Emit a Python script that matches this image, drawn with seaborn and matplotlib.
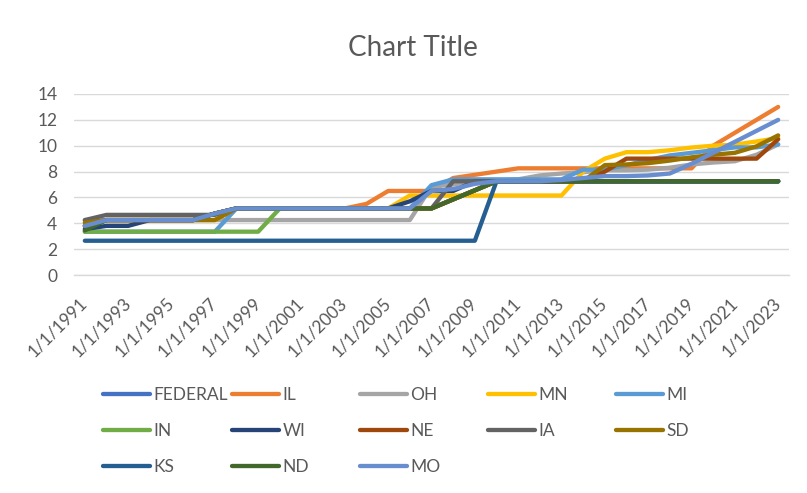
import numpy as np
import pandas as pd
import matplotlib
matplotlib.use("Agg")
import matplotlib.pyplot as plt
from matplotlib.lines import Line2D
import seaborn as sns

# ---------------- data ----------------
years = list(range(1991, 2024))

FEDERAL = [3.80] + [4.25] * 5 + [4.75] + [5.15] * 10 + [5.85, 6.55] + [7.25] * 14
IL = [3.80] + [4.25] * 5 + [4.75] + [5.15] * 6 + [5.50] + [6.50] * 3 + [7.50, 7.75, 8.00] + [8.25] * 9 + [10.00, 11.00, 12.00, 13.00]
OH = [4.25] * 16 + [6.85, 7.00, 7.30, 7.30, 7.40, 7.70, 7.85, 7.95, 8.10, 8.10, 8.15, 8.30, 8.55, 8.70, 8.80, 9.30, 10.10]
MN = [3.80] + [4.25] * 6 + [5.15] * 8 + [6.15] * 8 + [8.00, 9.00, 9.50, 9.50, 9.65, 9.86, 10.00, 10.08, 10.33, 10.59]
MI = [3.35] * 7 + [5.15] * 9 + [6.95] + [7.40] * 6 + [8.15, 8.15, 8.50, 8.90, 9.25, 9.45, 9.65, 9.87, 9.87, 10.10]
IN = [3.35] * 9 + [5.15] * 8 + [5.85, 6.55] + [7.25] * 14
WI = [3.55, 3.80, 3.80, 4.25, 4.25, 4.25, 4.75] + [5.15] * 8 + [5.70, 6.50, 6.50] + [7.25] * 15
NE = [3.80] + [4.25] * 5 + [4.75] + [5.15] * 10 + [5.85, 6.55] + [7.25] * 5 + [8.00] + [9.00] * 7 + [10.50]
IA = [4.25] + [4.65] * 6 + [5.15] * 10 + [7.25] * 16
SD = [4.05] + [4.25] * 6 + [5.15] * 10 + [5.85, 6.55] + [7.25] * 5 + [8.50, 8.55, 8.65, 8.85, 9.10, 9.30, 9.45, 9.95, 10.80]
KS = [2.65] * 19 + [7.25] * 14
ND = [3.45] + [4.25] * 5 + [4.75] + [5.15] * 10 + [5.85, 6.55] + [7.25] * 14
MO = [3.80] + [4.25] * 5 + [4.75] + [5.15] * 9 + [6.50, 6.65, 7.05, 7.25, 7.25, 7.25, 7.35, 7.50, 7.65, 7.65, 7.70, 7.85, 8.60, 9.45, 10.30, 11.15, 12.00]

states = ["FEDERAL", "IL", "OH", "MN", "MI", "IN", "WI", "NE", "IA", "SD", "KS", "ND", "MO"]
series = [FEDERAL, IL, OH, MN, MI, IN, WI, NE, IA, SD, KS, ND, MO]
colors = ["#4472C4", "#ED7D31", "#A5A5A5", "#FFC000", "#5B9BD5", "#70AD47",
          "#264478", "#9E480E", "#636363", "#997300", "#255E91", "#43682B", "#698ED0"]

tick_years = list(range(1991, 2024, 2))
tick_labels = [f"1/1/{y}" for y in tick_years]
y_ticks = list(range(0, 16, 2))

# ---------------- style ----------------
sns.set_theme(style="white")
plt.rcParams["font.family"] = ["Lato", "DejaVu Sans"]
TXT = "#595959"
GRID = "#D9D9D9"
LW = 3.1

df = pd.DataFrame({
    "year": np.tile(years, len(states)),
    "wage": np.concatenate([np.array(s, dtype=float) for s in series]),
    "state": np.repeat(states, len(years)),
})

W, H = 807, 493
fig = plt.figure(figsize=(W / 100, H / 100), dpi=100)
L, R, T, B = 74, 789, 94, 275
ax = fig.add_axes([L / W, 1 - B / H, (R - L) / W, (B - T) / H])

sns.lineplot(data=df, x="year", y="wage", hue="state", hue_order=states,
             palette=dict(zip(states, colors)), linewidth=LW, legend=False,
             estimator=None, sort=False, ax=ax,
             solid_capstyle="round", solid_joinstyle="round")

ax.set_xlim(1990.5, 2023.5)
ax.set_ylim(0, 14)
ax.set_xlabel("")
ax.set_ylabel("")
ax.set_yticks(y_ticks)
ax.set_yticklabels([str(v) for v in y_ticks])
ax.yaxis.grid(True, color=GRID, linewidth=1.0)
ax.set_axisbelow(True)
for s in ["left", "right", "top"]:
    ax.spines[s].set_visible(False)
ax.spines["bottom"].set_color(GRID)
ax.spines["bottom"].set_linewidth(1.0)

ax.set_xticks(tick_years)
ax.set_xticklabels(tick_labels, rotation=45, ha="right", va="center",
                   rotation_mode="anchor")
ax.set_xticks(np.arange(1990.5, 2023, 2), minor=True)
ax.tick_params(axis="x", which="major", length=0, pad=18.5, labelsize=12.5, labelcolor=TXT)
ax.tick_params(axis="x", which="minor", length=5, width=1.0, color=GRID, direction="out")
ax.tick_params(axis="y", which="major", length=0, pad=12, labelsize=12.5, labelcolor=TXT)

fig.text(413 / W, 1 - 48 / H, "Chart Title", ha="center", va="center",
         fontsize=20, color=TXT)

# ---------------- legend (5 equal columns) ----------------
col_x = [103, 232, 360, 488, 616]
legend_top = 387
handles = [Line2D([0], [0], color=c, linewidth=LW, solid_capstyle="round") for c in colors]
fs = 12.5
for j, x in enumerate(col_x):
    idx = [i for i in (j, j + 5, j + 10) if i < len(states)]
    leg = fig.legend([handles[i] for i in idx], [states[i] for i in idx],
                     loc="upper left", bbox_to_anchor=(x / W, 1 - legend_top / H),
                     frameon=False, borderpad=0, borderaxespad=0,
                     handlelength=47 / (fs * 100 / 72), handletextpad=0.2,
                     labelspacing=1.14, fontsize=fs)
    for t in leg.get_texts():
        t.set_color(TXT)

fig.savefig("out.png", dpi=100)
